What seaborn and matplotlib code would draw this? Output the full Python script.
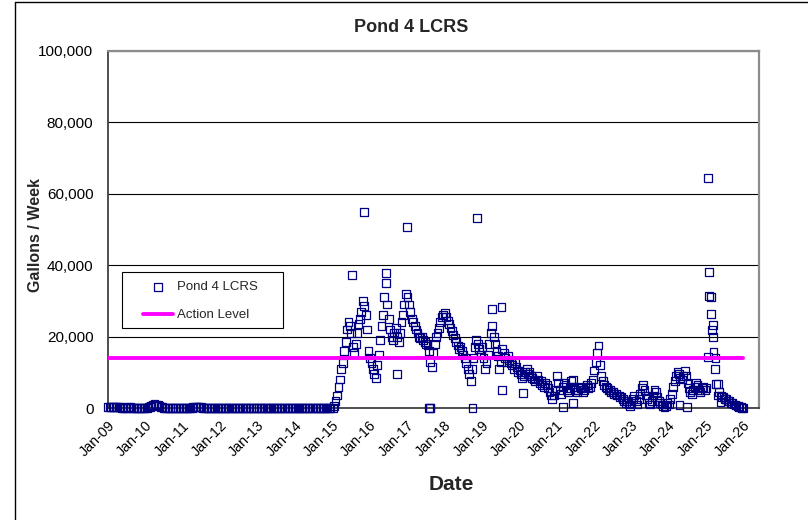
import pandas as pd
import numpy as np
import matplotlib
matplotlib.use("Agg")
import matplotlib.pyplot as plt
import matplotlib.dates as mdates
from matplotlib.lines import Line2D
from matplotlib.patches import Rectangle
from matplotlib.ticker import FuncFormatter
import seaborn as sns

# --- data --------------------------------------------------------------
# 2009-2014: twice-monthly readings (gallons / week)
early_vals = {
    2009: [200, 300, 300, 400, 400, 300, 300, 200, 200, 100, 100, 100,
           100, 200, 200, 100, 100, 0, 0, 100, 100, 0, 0, 0],
    2010: [100, 100, 200, 300, 600, 900, 1200, 1000, 900, 500, 300, 200,
           100, 0, 0, 0, 0, 100, 100, 0, 0, 0, 0, 0],
    2011: [0, 0, 100, 0, 0, 100, 100, 200, 300, 400, 400, 300,
           200, 100, 0, 0, 0, 0, 0, 0, 100, 0, 0, 0],
    2012: [0, 0, 0, 0, 100, 0, 0, 0, 0, 0, 100, 0,
           0, 0, 0, 0, 0, 0, 100, 0, 0, 0, 0, 0],
    2013: [0, 0, 100, 0, 0, 0, 0, 0, 0, 0, 0, 0,
           100, 0, 0, 0, 0, 0, 0, 0, 0, 0, 100, 0],
    2014: [0, 0, 0, 0, 0, 0, 100, 0, 0, 0, 0, 0,
           0, 0, 0, 0, 100, 0, 0, 0, 0, 0, 0, 0],
}

# 2015-2025: roughly bi-weekly readings
main_vals = {
    2015: [0, 500, 2000, 3500, 6000, 8000, 11000, 12500, 16000, 18500, 22000, 24000, 23000,
           21000, 17000, 15500, 18000, 21000, 23500, 25000, 27000, 30000, 28500, 26000, 22000, 16000],
    2016: [14000, 12500, 11000, 9500, 8500, 12000, 15000, 19000, 23000, 26000, 31000, 35000, 29000,
           25000, 22000, 20000, 19000, 21000, 22500, 20000, 18500, 21000, 24000, 26000, 29000, 32000],
    2017: [31000, 29000, 27000, 25000, 24000, 23000, 22000, 21000, 20000, 19500, 20000, 19000, 18500,
           18000, 17500, 16000, 13000, 11500, 15500, 18000, 20000, 21000, 22500, 24000, 25500, 26000],
    2018: [26500, 25500, 24500, 23500, 22500, 21500, 20500, 19500, 18500, 17500, 16500, 17000, 16000,
           15000, 14000, 12500, 11000, 9500, 7500, 11000, 14000, 17000, 19000, 18000, 16500, 15000],
    2019: [17000, 14000, 11000, 12500, 15000, 18000, 21000, 23000, 20000, 18000, 16000, 14500, 11000,
           13000, 16500, 15500, 14000, 13000, 14500, 13500, 12500, 12000, 11000, 12500, 11500, 10000],
    2020: [10500, 9500, 8500, 9000, 10000, 11000, 9500, 10000, 9000, 8500, 8000, 7500, 9000,
           8000, 7000, 7500, 6500, 6000, 7000, 6500, 5500, 4500, 3500, 2500, 3500, 5000],
    2021: [9000, 7000, 5000, 4000, 6000, 7000, 6500, 5000, 4500, 5500, 7500, 8000, 6000,
           5000, 4500, 5000, 6000, 5500, 4500, 5000, 6000, 6500, 5500, 6000, 7000, 8000],
    2022: [10500, 13000, 15500, 17500, 12000, 9000, 7500, 6500, 6000, 5500, 5000, 5000, 4500,
           4500, 4000, 4000, 3500, 3500, 3000, 3000, 2500, 2000, 1500, 2000, 1000, 500],
    2023: [1500, 2500, 3500, 2000, 1000, 2500, 4000, 5500, 6500, 5000, 3500, 2500, 1500,
           1000, 2000, 3500, 5000, 4500, 3000, 2000, 1500, 1000, 500, 300, 500, 1500],
    2024: [1000, 2500, 4000, 6000, 7500, 9000, 10000, 9500, 8500, 8000, 9000, 10500, 9000,
           7000, 5500, 4500, 4000, 5000, 6000, 7000, 6500, 5000, 4500, 5500, 6000, 5000],
    2025: [5500, 64400, 31400, 26300, 21800, 15700, 11000, 6700, 3500, 4500, 3500, 3000, 3000,
           2500, 2500, 2000, 2000, 1500, 1500, 1000, 1000, 700, 500, 300, 200, 100],
}

# extra scattered readings (spikes and zero readings)
extra_dates = ['2015-07-15', '2015-11-05', '2016-06-15', '2016-09-25', '2017-01-05',
               '2017-08-05', '2017-08-12', '2017-08-19', '2018-10-05', '2018-11-20',
               '2019-04-10', '2019-07-15', '2019-07-22', '2020-02-10', '2021-03-10',
               '2021-06-10', '2024-04-20', '2024-07-05', '2025-01-20', '2025-02-03',
               '2025-02-24', '2025-03-10', '2025-03-17', '2025-04-07', '2025-05-05',
               '2025-05-26', '2025-12-30']
extra_vals = [37300, 55000, 37800, 9500, 50700,
              0, 0, 0, 0, 53200,
              27700, 28300, 5000, 4200, 300,
              1400, 800, 300, 14300, 38000,
              31100, 23200, 20000, 14000, 6700,
              1700, 0]

action_dates = ['2009-01-01', '2026-01-01']
action_level = [14000, 14000]

# --- assemble -------------------------------------------------------------
frames = []
for yr, vals in early_vals.items():
    frames.append(pd.DataFrame({'Date': pd.date_range(f'{yr}-01-01', periods=len(vals), freq='SMS'),
                                'Gallons': vals}))
for yr, vals in main_vals.items():
    frames.append(pd.DataFrame({'Date': pd.date_range(f'{yr}-01-07', periods=len(vals), freq='14D'),
                                'Gallons': vals}))
frames.append(pd.DataFrame({'Date': pd.to_datetime(extra_dates), 'Gallons': extra_vals}))
df = pd.concat(frames, ignore_index=True)

df_action = pd.DataFrame({'Date': pd.to_datetime(action_dates), 'Gallons': action_level})

# --- plot -----------------------------------------------------------------
sns.set_style("white")
plt.rcParams['font.family'] = ['Liberation Sans', 'DejaVu Sans']

fig = plt.figure(figsize=(8.08, 5.2), dpi=100)
ax = fig.add_axes([108 / 808, 1 - 408 / 520, 651 / 808, 357 / 520])

sns.scatterplot(data=df, x='Date', y='Gallons', ax=ax, marker='s', s=32,
                color='#000080', facecolor='none', edgecolor='#000080', linewidth=0.9,
                label='Pond 4 LCRS', zorder=3, clip_on=False)
sns.lineplot(data=df_action, x='Date', y='Gallons', ax=ax, color='#FF00FF', linewidth=2.8,
             label='Action Level', zorder=4)

ax.set_xlim(pd.Timestamp('2009-01-01'), pd.Timestamp('2026-06-06'))
ax.set_ylim(0, 100000)
ax.set_yticks(range(0, 100001, 20000))
ax.yaxis.set_major_formatter(FuncFormatter(lambda v, p: f'{v:,.0f}'))
ax.xaxis.set_major_locator(mdates.YearLocator())
ax.xaxis.set_major_formatter(mdates.DateFormatter('%b-%y'))
plt.setp(ax.get_xticklabels(), rotation=45, ha='right', va='top', rotation_mode='anchor')

ax.yaxis.grid(True, color='black', linewidth=0.8)
ax.xaxis.grid(False)
ax.set_axisbelow(True)
for side in ['top', 'right']:
    ax.spines[side].set_color('#8c8c8c')
    ax.spines[side].set_linewidth(1.6)
for side in ['left', 'bottom']:
    ax.spines[side].set_color('#404040')
    ax.spines[side].set_linewidth(1.3)
ax.tick_params(axis='both', direction='out', length=4.5, width=1, color='#404040',
               labelcolor='black', pad=3)
ax.tick_params(axis='x', labelsize=10.3)
ax.tick_params(axis='y', labelsize=11, pad=6)

# titles placed like the Excel chart area
fig.text(411 / 808, 1 - 27 / 520, 'Pond 4 LCRS', fontsize=13, fontweight='bold',
         ha='center', va='center')
ax.set_xlabel('')
fig.text(451 / 808, 1 - 485 / 520, 'Date', fontsize=15, fontweight='bold',
         ha='center', va='center')
ax.set_ylabel('Gallons / Week', fontsize=11.5, fontweight='bold')
ax.yaxis.set_label_coords(-0.100, 0.485)

# legend: plain box drawn separately, entries placed inside it
ax.add_patch(Rectangle(((122 - 108) / 651, (408 - 328) / 357), 161 / 651, 56 / 357,
                       transform=ax.transAxes, facecolor='white', edgecolor='black',
                       linewidth=0.8, zorder=5))
leg = ax.legend(loc='upper left', bbox_to_anchor=((143 - 108) / 651, (408 - 281) / 357),
                fontsize=9.5, frameon=False, borderpad=0, borderaxespad=0,
                handlelength=2.27, handletextpad=0.3, labelspacing=1.2)
leg.set_zorder(6)

# outer chart-area border (left and top edges are visible)
fig.add_artist(Line2D([15 / 808, 15 / 808], [0, 1 - 2 / 520], transform=fig.transFigure,
                      color='black', linewidth=1))
fig.add_artist(Line2D([15 / 808, 1], [1 - 2 / 520, 1 - 2 / 520], transform=fig.transFigure,
                      color='black', linewidth=1))

fig.savefig('out.png', dpi=100, facecolor='white')
